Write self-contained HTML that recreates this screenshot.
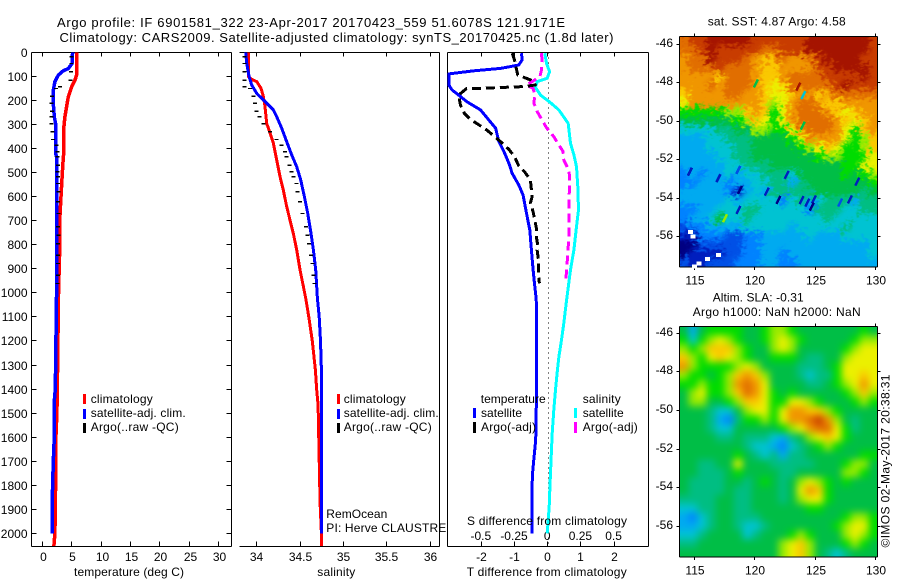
<!DOCTYPE html>
<html>
<head>
<meta charset="utf-8">
<title>Argo profile comparison</title>
<style>
html,body{margin:0;padding:0;background:#fff;}
svg{display:block;}
text{font-family:"Liberation Sans",Arial,sans-serif;font-size:12px;fill:#000;}
text.t{font-size:13px;}
</style>
</head>
<body>
<svg id="fig" xmlns="http://www.w3.org/2000/svg" width="900" height="580" viewBox="0 0 900 580">
<defs>
<clipPath id="clipSst"><rect x="679.5" y="36.5" width="198" height="230.5"/></clipPath>
<clipPath id="clipSla"><rect x="679.5" y="326.5" width="198" height="230.5"/></clipPath>
<filter id="fSst" filterUnits="userSpaceOnUse" x="640" y="0" width="260" height="300" color-interpolation-filters="sRGB">
<feGaussianBlur in="SourceGraphic" stdDeviation="2.2" result="b"/>
<feTurbulence type="fractalNoise" baseFrequency="0.2 0.3" numOctaves="2" seed="4" result="n"/>
<feColorMatrix in="n" type="matrix" values="1 0 0 0 0  -1 0 0 0 1  0 0 0 0 0  0 0 0 0 1" result="m"/>
<feDisplacementMap in="b" in2="m" scale="18" xChannelSelector="R" yChannelSelector="G"/>
</filter>
<filter id="fSla" filterUnits="userSpaceOnUse" x="640" y="290" width="260" height="290" color-interpolation-filters="sRGB">
<feGaussianBlur stdDeviation="3.6"/>
</filter>
</defs>
<rect x="0" y="0" width="900" height="580" fill="#fff"/>

<text class="t" x="57" y="27" textLength="508">Argo profile: IF 6901581_322 23-Apr-2017 20170423_559 51.6078S 121.9171E</text>
<text class="t" x="59.5" y="42" textLength="554">Climatology: CARS2009. Satellite-adjusted climatology: synTS_20170425.nc (1.8d later)</text>

<g id="p1"></g>
<g id="p2"></g>
<g id="p3"></g>

<g>
<rect x="83" y="394" width="3" height="10" fill="#f00"/>
<text x="90.7" y="403" textLength="62">climatology</text>
<rect x="83" y="409" width="3" height="10" fill="#00f"/>
<text x="90.7" y="417" textLength="95">satellite-adj. clim.</text>
<rect x="83" y="423" width="3" height="10" fill="#000"/>
<text x="90.7" y="431" textLength="88">Argo(..raw -QC)</text>
</g>
<g>
<rect x="337" y="394" width="3" height="10" fill="#f00"/>
<text x="343.7" y="403" textLength="62">climatology</text>
<rect x="337" y="409" width="3" height="10" fill="#00f"/>
<text x="343.7" y="417" textLength="95">satellite-adj. clim.</text>
<rect x="337" y="423" width="3" height="10" fill="#000"/>
<text x="343.7" y="431" textLength="88">Argo(..raw -QC)</text>
</g>
<text x="326.3" y="518" textLength="61">RemOcean</text>
<text x="326.3" y="532" textLength="120">PI: Herve CLAUSTRE</text>

<g>
<text x="480.7" y="403" textLength="65">temperature</text>
<rect x="473" y="408" width="3" height="10" fill="#00f"/>
<text x="481" y="417" textLength="41">satellite</text>
<rect x="473" y="422" width="3" height="11" fill="#000"/>
<text x="481" y="431" textLength="55">Argo(-adj)</text>
<text x="582.7" y="403" textLength="38">salinity</text>
<rect x="574" y="408" width="3" height="10" fill="#0ff"/>
<text x="582.7" y="417" textLength="41">satellite</text>
<rect x="574" y="422" width="3" height="11" fill="#f0f"/>
<text x="582.7" y="431" textLength="55">Argo(-adj)</text>
</g>
<text x="467" y="525" textLength="160">S difference from climatology</text>
<text x="74" y="576" textLength="110">temperature (deg C)</text>
<text x="317.3" y="576" textLength="38">salinity</text>
<text x="466.7" y="576" textLength="160">T difference from climatology</text>

<text x="707.7" y="25.5" textLength="138">sat. SST: 4.87 Argo: 4.58</text>
<g id="m1"></g>

<text x="712.7" y="301.5" textLength="91">Altim. SLA: -0.31</text>
<text x="692.7" y="316" textLength="168">Argo h1000: NaN h2000: NaN</text>
<g id="m2"></g>
<text transform="translate(889.5 547.5) rotate(-90)" x="0" y="0" textLength="173">©IMOS 02-May-2017 20:38:31</text>
</svg>

<script>
/* axis ticks */
const depthTicks = [0,100,200,300,400,500,600,700,800,900,1000,1100,1200,1300,1400,1500,1600,1700,1800,1900,2000];
const tempTicks = [0,5,10,15,20,25,30];
const salTicks = [34,34.5,35,35.5,36];
const tDiffTicks = [-2,-1,0,1,2];
const sDiffTicks = [-0.5,-0.25,0,0.25,0.5];
const lonTicks = [115,120,125,130];
const latTicks = [-46,-48,-50,-52,-54,-56];

/* temperature panel */
const climTempDepth = [0,94,115,143,184,226,268,309,406,462,531,607,683,767,891,975,1200,1400,1500,1600,1800,2000,2053];
const climTemp = [5.84,5.84,5.56,4.99,4.42,4.14,3.85,3.68,3.68,3.51,3.34,3.17,3.0,3.0,2.89,2.78,2.65,2.55,2.49,2.32,2.27,2.15,1.98];
const satTempDepth = [0,46,67,76,94,122,157,212,268,295,420,434,988,1400,1450,1600,1700,1850,2000];
const satTemp = [5.16,5.05,4.42,3.57,2.72,2.15,1.87,1.87,2.04,2.27,2.27,2.44,2.44,2.21,2.04,2.04,1.87,1.70,1.70];

/* shared Argo sample depths and raw values */
const argoDepth = [17,45,80,114,142,149,181,211,243,267,295,329,361,385,412,433,468,496,516,544,579,620,669,724,759,794,842,877,925,960];
const argoTemp = [5.0,5.0,4.85,4.8,3.0,2.3,1.65,1.55,1.65,1.6,1.6,1.7,1.8,2.4,2.6,2.55,2.65,2.6,2.7,2.7,2.75,2.7,2.75,2.7,2.75,2.7,2.7,2.65,2.65,2.6];
const argoSal = [33.858,33.858,33.858,33.858,33.858,33.923,33.962,33.981,34.0,34.031,34.077,34.154,34.23,34.288,34.326,34.346,34.376,34.403,34.422,34.461,34.468,34.499,34.53,34.568,34.584,34.603,34.626,34.641,34.653,34.664];

/* salinity panel */
const climSalDepth = [0,100,112,121,149,184,225,295,336,378,447,516,572,641,697,752,821,904,974,1022,1100,1200,1321,1404,1466,1653,1875,2000,2053];
const climSal = [33.904,33.904,33.942,34.0,34.05,34.077,34.096,34.115,34.154,34.192,34.23,34.269,34.307,34.346,34.384,34.422,34.461,34.499,34.538,34.565,34.6,34.64,34.676,34.691,34.707,34.718,34.73,34.745,34.745];
const satSalDepth = [0,45,100,135,170,204,239,267,315,371,426,475,530,600,669,752,821,904,1022,1100,1200,1320,2000];
const satSal = [33.873,33.885,33.912,33.942,34.0,34.096,34.192,34.23,34.288,34.346,34.403,34.461,34.507,34.549,34.588,34.626,34.653,34.68,34.699,34.72,34.735,34.745,34.745];

/* difference panel */
const dTSatDepth = [3,31,52,66,76,89,135,156,177,205,239,281,315,371,412,461,503,551,593,669,738,821,904,974,1022,1071,1376,1612,1681,1737,1820,2000];
const dTSat = [-0.79,-0.77,-0.87,-1.42,-2.22,-2.98,-2.98,-2.88,-2.68,-2.43,-2.02,-1.77,-1.57,-1.47,-1.32,-1.17,-1.07,-0.87,-0.74,-0.64,-0.54,-0.49,-0.44,-0.39,-0.35,-0.33,-0.33,-0.36,-0.41,-0.45,-0.48,-0.48];
const dTArgoDepth = [3,31,52,94,103,114,135,142,146,149,150,177,218,253,278,301,322,347,371,403,433,472,496,530,558,600,627,662,690,731,759,801,821,870,933,960];
const dTArgo = [-1.07,-1.0,-0.97,-0.9,-0.72,-0.52,-0.37,-0.72,-1.52,-1.97,-2.45,-2.68,-2.63,-2.51,-2.33,-2.07,-1.84,-1.62,-1.42,-1.17,-1.0,-0.87,-0.70,-0.52,-0.5,-0.47,-0.52,-0.44,-0.4,-0.34,-0.35,-0.3,-0.32,-0.27,-0.27,-0.25];
const dSSatDepth = [3,45,80,107,121,145,177,209,239,295,378,426,475,558,655,724,821,904,988,1029,1126,1196,1265,1334,1403,1487,1584,1681,1820,1889,2000];
const dSSat = [-0.022,-0.009,0.014,-0.004,-0.079,-0.092,-0.054,0.021,0.084,0.154,0.172,0.197,0.217,0.227,0.232,0.217,0.197,0.172,0.152,0.142,0.121,0.104,0.084,0.071,0.059,0.046,0.034,0.026,0.016,0.011,-0.004];
const dSArgoDepth = [3,38,73,100,121,135,149,177,211,246,281,313,350,378,412,447,475,503,544,613,683,738,766,807,877,943];
const dSArgo = [-0.047,-0.042,-0.047,-0.059,-0.117,-0.16,-0.109,-0.097,-0.104,-0.079,-0.042,-0.009,0.046,0.076,0.116,0.121,0.146,0.162,0.167,0.159,0.159,0.162,0.162,0.154,0.146,0.137];

/* gridded map values, colour-scale levels 0-15, north to south */
const sstGrid = [
[13,14,14,15,15,15,15,15,14,14,14,14,14,14,15,15,15,15,15,15,15,14],
[13,13,14,15,14,14,14,14,14,13,13,14,14,14,15,15,15,15,15,15,15,14],
[12,13,13,15,14,14,14,13,12,11,12,13,12,12,13,14,15,15,15,15,14,14],
[12,13,13,13,14,13,13,13,12,11,11,12,12,12,12,14,14,15,15,15,15,14],
[12,12,12,12,11,13,13,13,12,11,11,12,13,13,13,13,14,14,14,14,15,14],
[12,12,12,13,12,13,13,13,12,11,10,11,13,13,13,13,13,14,15,14,14,14],
[11,12,12,12,12,13,13,12,12,11,10,10,11,12,12,11,12,13,13,13,13,13],
[10,12,12,12,12,12,12,12,12,11,9,10,12,13,13,12,11,11,12,12,12,12],
[8,8,8,8,8,9,9,11,12,11,8,10,12,13,13,13,12,11,10,11,12,12],
[7,7,7,7,7,7,8,9,11,10,8,10,12,13,13,13,13,12,11,10,11,12],
[5,5,5,5,6,6,7,7,9,9,8,8,10,12,13,13,13,12,10,8,11,12],
[4,4,4,5,5,6,6,6,7,7,7,7,8,10,12,12,12,12,10,8,9,11],
[4,4,4,5,5,5,6,6,7,7,7,7,7,8,9,10,11,10,8,8,9,11],
[4,4,4,4,5,5,6,6,7,7,7,7,7,7,7,8,9,9,8,8,8,10],
[4,4,4,4,4,5,5,6,6,6,7,7,7,7,7,7,7,7,8,8,10,10],
[3,4,3,4,4,5,4,5,5,6,6,6,5,7,7,7,7,7,8,7,8,9],
[3,3,4,4,4,3,4,4,5,5,6,6,4,6,7,7,7,7,7,7,7,8],
[4,4,4,4,4,3,1,4,5,4,6,6,6,6,6,7,7,7,7,7,6,7],
[4,4,4,4,4,5,4,5,5,5,5,3,5,6,4,5,6,6,6,4,6,6],
[3,3,4,4,5,5,5,6,6,5,5,5,5,5,3,6,6,6,5,5,6,6],
[3,4,4,5,7,5,5,6,5,5,5,5,5,5,5,5,6,5,5,5,5,5],
[2,3,3,4,4,4,4,5,5,5,5,5,4,5,5,5,5,5,6,5,5,5],
[1,1,3,3,3,2,2,3,3,4,4,4,4,4,5,4,4,4,5,5,5,5],
[0,0,2,2,2,2,2,3,3,4,4,4,4,4,4,4,4,4,4,4,4,5],
[0,1,1,1,1,2,2,3,3,4,4,3,4,4,4,4,4,4,4,4,4,5],
[2,1,1,2,2,2,3,3,3,4,4,3,3,4,4,4,4,4,4,4,4,4]
];
const slaGrid = [
[7,4,7,8,8,8,8,7,7,8,9,9,8,7,7,7,7,7,7,7,8,7],
[8,5,8,9,10,9,8,7,7,8,9,10,9,8,7,7,7,7,7,8,9,9],
[9,8,9,11,11,11,9,8,7,7,9,10,9,7,7,7,7,7,8,9,10,10],
[11,9,8,10,11,10,9,8,7,7,8,8,8,7,6,6,7,7,9,10,10,10],
[12,9,8,8,8,8,9,10,9,7,7,7,7,6,6,6,7,8,10,10,10,10],
[9,8,8,7,8,9,11,12,11,9,7,7,7,6,5,6,6,8,10,10,11,10],
[8,8,9,8,8,9,12,13,12,10,7,7,7,7,6,6,7,8,9,10,12,10],
[7,9,10,8,8,9,11,13,12,10,8,7,8,7,7,7,7,7,8,9,11,9],
[7,9,9,7,7,8,9,11,11,10,8,8,10,10,9,8,7,7,7,8,9,8],
[7,7,7,6,5,5,7,9,10,10,8,10,12,12,11,11,9,8,7,7,7,7],
[7,7,7,6,4,3,6,8,8,9,8,10,12,12,13,14,12,9,7,6,7,7],
[7,7,7,6,5,5,7,7,7,7,7,8,9,10,12,13,13,10,8,6,7,7],
[7,7,7,7,6,6,7,6,6,6,5,4,6,7,9,10,11,10,8,7,7,7],
[7,7,7,7,7,7,7,6,5,5,4,3,5,6,7,8,9,8,7,7,7,7],
[7,7,7,7,7,7,8,7,6,5,6,4,6,6,7,7,7,7,7,7,8,8],
[7,7,6,6,7,7,10,7,7,7,6,6,6,6,6,7,7,7,8,9,9,7],
[7,7,6,6,6,7,8,7,7,7,7,6,6,7,7,7,7,7,9,9,8,7],
[7,6,6,6,6,7,7,6,7,8,7,6,7,9,10,9,8,7,8,7,7,7],
[7,6,6,6,6,7,6,6,7,7,7,6,7,10,12,11,8,7,7,7,7,7],
[6,6,6,6,7,7,6,6,7,7,7,6,7,9,10,10,8,7,7,7,7,7],
[5,5,6,6,7,7,6,6,7,7,7,7,7,7,8,8,7,7,7,7,7,7],
[4,3,5,6,7,7,6,6,6,7,7,7,7,7,7,7,7,7,8,9,9,8],
[4,4,5,6,7,7,6,5,5,6,7,7,7,7,7,7,7,8,9,10,10,8],
[5,5,6,7,7,7,7,5,6,7,7,7,8,9,8,7,7,7,9,10,9,8],
[6,6,7,7,7,7,7,7,7,7,7,9,10,11,9,7,7,7,8,9,8,7],
[7,7,7,7,7,7,7,7,7,7,7,9,10,11,9,7,6,5,6,7,7,7]
];
/* missing SST cells */
const sstGapLon = [114.7,114.9,116.1,117.0,115.4,115.0];
const sstGapLat = [-55.75,-56.0,-57.15,-56.95,-57.4,-57.55];
/* isolated SST outliers: longitude, latitude, colour level */
const sstSpeckLon = [114.64,116.99,118.64,118.78,120.99,121.95,118.64,122.64,123.88,124.35,124.9,124.71,127.05,127.88,128.48,117.54,120.1,123.6,124.02,123.97];
const sstSpeckLat = [-52.62,-52.96,-52.53,-53.57,-53.66,-54.09,-54.61,-52.79,-54.09,-54.23,-54.06,-54.44,-54.23,-54.06,-53.14,-55.04,-48.03,-48.2,-48.64,-50.23];
const sstSpeckLevel = [1,1,2,0,1,0,1,1,1,1,1,0,2,1,1,9,7,15,5,7];

const palette = [[0,0,130],[0,30,190],[0,80,230],[0,130,255],[0,170,240],[0,195,210],[0,190,130],[0,190,70],[0,220,0],[150,235,0],[235,240,0],[250,200,0],[240,150,0],[225,110,0],[200,60,0],[165,20,0]];

/* axis functions */
function yD(d){return 52.5+d*0.2404;}
function xTemp(t){return 42.3+t*5.88;}
function xSal(s){return 256.7+(s-34)*86.8;}
function xDT(t){return 547.7+t*33.2;}
function xDS(s){return 547.7+s*132.8;}
function xLon(l){return 694.3+(l-115)*12.09;}
function yLatTop(l){return 44.3+(-46-l)*19.24;}
function yLatBot(l){return 333.3+(-46-l)*19.3;}

const NS='http://www.w3.org/2000/svg';
function make(parent,tag,attrs){
  const el=document.createElementNS(NS,tag);
  for(const k in attrs){el.setAttribute(k,attrs[k]);}
  parent.appendChild(el);
  return el;
}
function seg(parent,x1,y1,x2,y2,name){
  const el=make(parent,'line',{x1:x1,y1:y1,x2:x2,y2:y2,stroke:'#000','stroke-width':1,'shape-rendering':'crispEdges'});
  
  
  return el;
}
function txt(parent,x,y,s,anchor,name){
  const el=make(parent,'text',{x:x,y:y,'text-anchor':anchor});
  el.textContent=s;
  
  
  return el;
}
function curve(parent,xs,ds,xf,color,w,dash,name){
  const pts=ds.map(function(d,i){return xf(xs[i]).toFixed(1)+','+yD(d).toFixed(1);}).join(' ');
  const attrs={points:pts,fill:'none',stroke:color,'stroke-width':w,'shape-rendering':'crispEdges','stroke-linejoin':'round'};
  if(dash){attrs['stroke-dasharray']=dash;}
  const el=make(parent,'polyline',attrs);
  
  
  return el;
}
function dots(parent,xs,ds,xf,name){
  ds.forEach(function(d,i){
    const el=make(parent,'rect',{x:(xf(xs[i])-2).toFixed(1),y:(yD(d)-0.5).toFixed(1),width:4,height:1.4,fill:'#000','shape-rendering':'crispEdges'});
    
    
  });
}
const L=31.5,R=231.5,T=52.5,B=546.5;

/* panel 1 */
(function(){
  const g=document.getElementById('p1');
  seg(g,L,T,R,T,'top-axis');
  seg(g,L,B,R,B,'bottom-axis');
  seg(g,L,T,L,B,'left-axis');
  seg(g,R,T,R,B,'right-axis');
  depthTicks.forEach(function(d){
    const y=Math.round(yD(d)-0.5)+0.5;
    seg(g,L,y,L+5,y,'depth-tick-left');
    seg(g,R-5,y,R,y,'depth-tick-right');
    txt(g,27.5,y+4.5,String(d),'end','depth-tick-label');
  });
  tempTicks.forEach(function(t){
    const x=Math.round(xTemp(t)-0.5)+0.5;
    seg(g,x,T,x,T+4,'temperature-tick-top');
    seg(g,x,B-5,x,B,'temperature-tick-bottom');
    txt(g,x+1,561,String(t),'middle','temperature-tick-label');
  });
  curve(g,climTemp,climTempDepth,xTemp,'#f00',3.5,null,'climatology-temperature-line');
  curve(g,satTemp,satTempDepth,xTemp,'#00f',3.5,null,'satellite-temperature-line');
  dots(g,argoTemp,argoDepth,xTemp,'argo-temperature-point');
})();

/* panel 2 */
(function(){
  const g=document.getElementById('p2');
  const l=239.5,r=439.5;
  seg(g,l,T,r,T,'top-axis');
  seg(g,l,B,r,B,'bottom-axis');
  seg(g,r,T,r,B,'right-axis');
  salTicks.forEach(function(s){
    const x=Math.round(xSal(s)-0.5)+0.5;
    seg(g,x,T,x,T+4,'salinity-tick-top');
    seg(g,x,B-5,x,B,'salinity-tick-bottom');
    txt(g,x,561,String(s),'middle','salinity-tick-label');
  });
  curve(g,climSal,climSalDepth,xSal,'#f00',3,null,'climatology-salinity-line');
  curve(g,satSal,satSalDepth,xSal,'#00f',3,null,'satellite-salinity-line');
  dots(g,argoSal,argoDepth,xSal,'argo-salinity-point');
})();

/* panel 3 */
(function(){
  const g=document.getElementById('p3');
  const l=447.5,r=648.5;
  seg(g,l,T,r,T,'top-axis');
  seg(g,l,B,r,B,'bottom-axis');
  seg(g,l,T,l,B,'left-axis');
  seg(g,r,T,r,B,'right-axis');
  const z=make(g,'line',{x1:548.5,y1:T,x2:548.5,y2:B,stroke:'#000','stroke-width':1,'stroke-dasharray':'1 4','shape-rendering':'crispEdges'});
  
  
  tDiffTicks.forEach(function(t){
    const x=Math.round(xDT(t)-0.5)+0.5;
    seg(g,x,T,x,T+4,'t-difference-tick-top');
    seg(g,x,B-5,x,B,'t-difference-tick-bottom');
    txt(g,x,561,String(t),'middle','t-difference-tick-label');
  });
  sDiffTicks.forEach(function(s){
    txt(g,xDS(s)-0.5,540,String(s),'middle','s-difference-tick-label');
  });
  curve(g,dSSat,dSSatDepth,xDS,'#0ff',3,null,'satellite-salinity-difference-line');
  curve(g,dSArgo,dSArgoDepth,xDS,'#f0f',3,'9 5','argo-salinity-difference-line');
  curve(g,dTSat,dTSatDepth,xDT,'#00f',3,null,'satellite-temperature-difference-line');
  curve(g,dTArgo,dTArgoDepth,xDT,'#000',3,'9 5','argo-temperature-difference-line');
})();

/* maps */
function levelColor(v){
  const c=Math.max(0,Math.min(palette.length-1,v));
  const a=Math.floor(c),b=Math.min(palette.length-1,a+1),f=c-a;
  const m=[0,1,2].map(function(i){return Math.round(palette[a][i]+(palette[b][i]-palette[a][i])*f);});
  return 'rgb('+m.join(',')+')';
}
function drawMap(g,grid,top,bottom,clipId,filterId,yLat,cellName,mapName){
  const left=679.5,right=877.5;
  const clip=make(g,'g',{'clip-path':'url(#'+clipId+')'});
  
  
  const cells=make(clip,'g',{filter:'url(#'+filterId+')'});
  
  
  const rows=grid.length,cols=grid[0].length;
  const cw=(right-left)/cols,ch=(bottom-top)/rows;
  grid.forEach(function(row,j){
    row.forEach(function(v,i){
      let x=left+i*cw,y=top+j*ch,w=cw+0.6,h=ch+0.6;
      if(i===0){x-=22;w+=22;}
      if(i===cols-1){w+=22;}
      if(j===0){y-=22;h+=22;}
      if(j===rows-1){h+=22;}
      const el=make(cells,'rect',{x:x.toFixed(1),y:y.toFixed(1),width:w.toFixed(1),height:h.toFixed(1),fill:levelColor(v)});
      
      
    });
  });
  seg(g,left,top,right,top,'map-top-axis');
  seg(g,left,bottom,right,bottom,'map-bottom-axis');
  seg(g,left,top,left,bottom,'map-left-axis');
  seg(g,right,top,right,bottom,'map-right-axis');
  lonTicks.forEach(function(l){
    const x=Math.round(xLon(l)-0.5)+0.5;
    seg(g,x,top-3,x,top,'longitude-tick-top');
    seg(g,x,bottom,x,bottom+3,'longitude-tick-bottom');
    txt(g,x+0.5,bottom+17.5,String(l),'middle','longitude-tick-label');
  });
  latTicks.forEach(function(l){
    const y=Math.round(yLat(l)-0.5)+0.5;
    seg(g,left-3,y,left,y,'latitude-tick-left');
    seg(g,right,y,right+3,y,'latitude-tick-right');
    txt(g,673,y+2.5,'-'+String(Math.abs(l)),'end','latitude-tick-label');
  });
}
drawMap(document.getElementById('m1'),sstGrid,36.5,267,'clipSst','fSst',yLatTop,'sst-cell','sst-map');
drawMap(document.getElementById('m2'),slaGrid,326.5,557,'clipSla','fSla',yLatBot,'sla-cell','sla-map');
(function(){
  const g=document.getElementById('m1');
  sstSpeckLon.forEach(function(lon,i){
    const x=xLon(lon),y=yLatTop(sstSpeckLat[i]);
    const el=make(g,'line',{x1:(x-2).toFixed(1),y1:(y+4).toFixed(1),x2:(x+2).toFixed(1),y2:(y-4).toFixed(1),stroke:levelColor(sstSpeckLevel[i]),'stroke-width':2.5,'shape-rendering':'crispEdges'});
    
    
  });
  sstGapLon.forEach(function(lon,i){
    const el=make(g,'rect',{x:(xLon(lon)-2.5).toFixed(1),y:(yLatTop(sstGapLat[i])-2).toFixed(1),width:5,height:4,fill:'#fff','shape-rendering':'crispEdges'});
    
    
  });
})();
</script>
</body>
</html>
